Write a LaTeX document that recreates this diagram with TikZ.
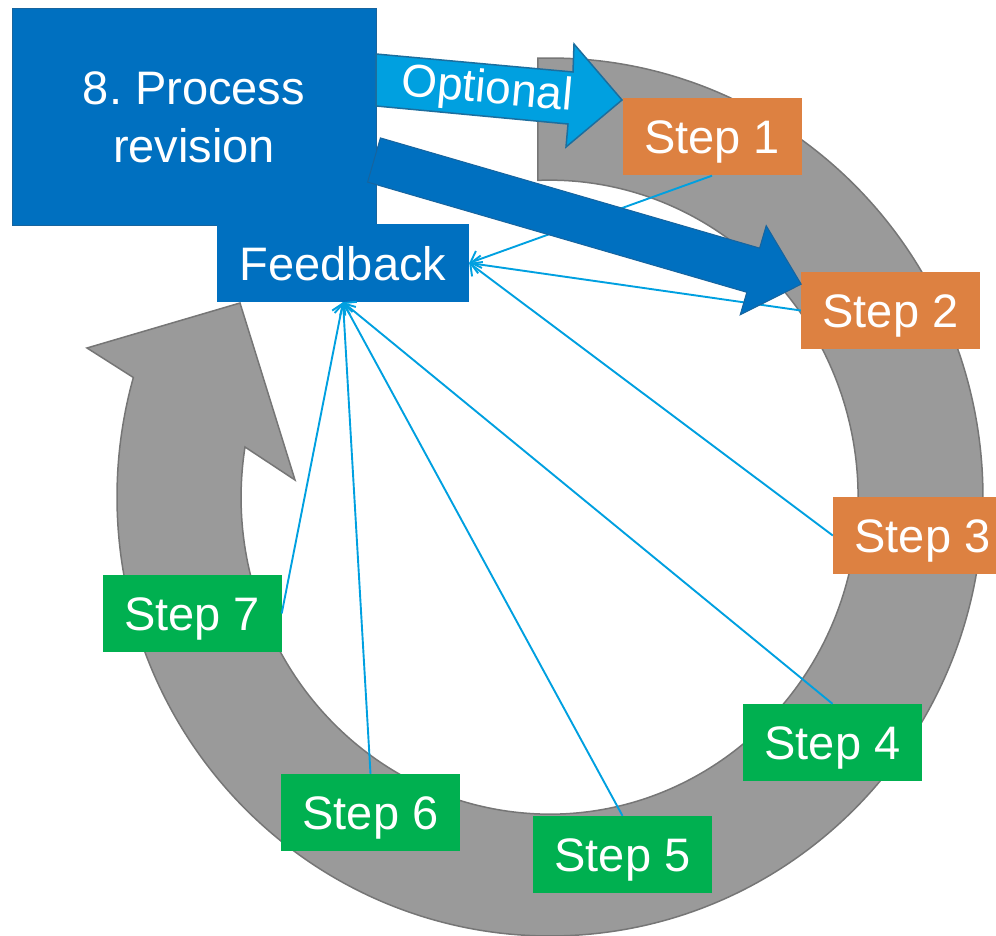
\documentclass[tikz,border=0pt]{standalone}
\usepackage{fontspec}
\setmainfont{Liberation Sans}
\usetikzlibrary{arrows.meta}

\definecolor{ringgray}{HTML}{9A9A9A}
\definecolor{ringedge}{HTML}{767676}
\definecolor{darkblue}{HTML}{0070C0}
\definecolor{darkedge}{HTML}{17649E}
\definecolor{lightblue}{HTML}{00A0E0}
\definecolor{optedge}{HTML}{1C6E9E}
\definecolor{stepgreen}{HTML}{00B050}
\definecolor{steporange}{HTML}{DD8141}

\begin{document}
\begin{tikzpicture}[x=1pt,y=-1pt,
    step_node/.style={rectangle, minimum width=179pt, minimum height=77pt, inner sep=0pt, text height=34pt, text depth=0pt, text=white, font=\fontsize{47}{56}\selectfont},
    orange_node/.style={step_node, fill=steporange},
    green_node/.style={step_node, fill=stepgreen},
    blue_node/.style={rectangle, fill=darkblue, inner sep=0pt, text=white, font=\fontsize{47}{58}\selectfont},
    feed_line/.style={draw=lightblue, line width=1.9pt, -{Straight Barb[length=9pt,width=18pt]}}]

    \useasboundingbox (0,0) rectangle (996,936);
    \clip (0,0) rectangle (996,936);

    \filldraw[fill=ringgray, draw=ringedge, line width=1.5pt]
        (537.9,58.2) arc[start angle=-91.6, end angle=195.8, x radius=433, y radius=439]
        -- (87,348) -- (240,303) -- (295,480) -- (245,447)
        arc[start angle=189.1, end angle=-92.2, x radius=308.5, y radius=317] -- cycle;

    \node[blue_node, draw=darkedge, line width=0.8pt, minimum width=364pt, minimum height=217pt, align=center] (process) at (194,117) {8.\ Process\\revision};

    \filldraw[fill=lightblue, draw=optedge, line width=1.5pt]
        (376,54) -- (573,72) -- (574,44) -- (622,100) -- (566,147) -- (568,124) -- (376,106) -- cycle;
    \node[text=white, rotate=-5.2, font=\fontsize{46}{56}\selectfont] (optional) at (487,91) {Optional};

    \node[blue_node, minimum width=252pt, minimum height=78pt, text height=34pt, text depth=0pt] (feedback) at (343,263) {Feedback};

    \node[orange_node] (s1) at (712,137) {Step 1};
    \node[orange_node] (s2) at (890.5,310.5) {Step 2};
    \node[orange_node] (s3) at (922.5,535.5) {Step 3};
    \node[green_node] (s4) at (832.5,742.5) {Step 4};
    \node[green_node] (s5) at (622.5,854.5) {Step 5};
    \node[green_node] (s6) at (370.5,812.5) {Step 6};
    \node[green_node] (s7) at (192,613.5) {Step 7};

    \draw[feed_line] (s1.south) -- (feedback.east);
    \draw[feed_line] (s2.west) -- (feedback.east);
    \draw[feed_line] (s3.west) -- (feedback.east);
    \draw[feed_line] (s4.north) -- (feedback.south);
    \draw[feed_line] (s5.north) -- (feedback.south);
    \draw[feed_line] (s6.north) -- (feedback.south);
    \draw[feed_line] (s7.east) -- (feedback.south);

    \filldraw[fill=darkblue, draw=darkedge, line width=1pt]
        (380.4,137.9) -- (759.6,248.1) -- (766.2,225.6) -- (801.2,284.2)
        -- (740.2,314.8) -- (746.8,292.3) -- (367.6,182.1) -- cycle;

\end{tikzpicture}
\end{document}
